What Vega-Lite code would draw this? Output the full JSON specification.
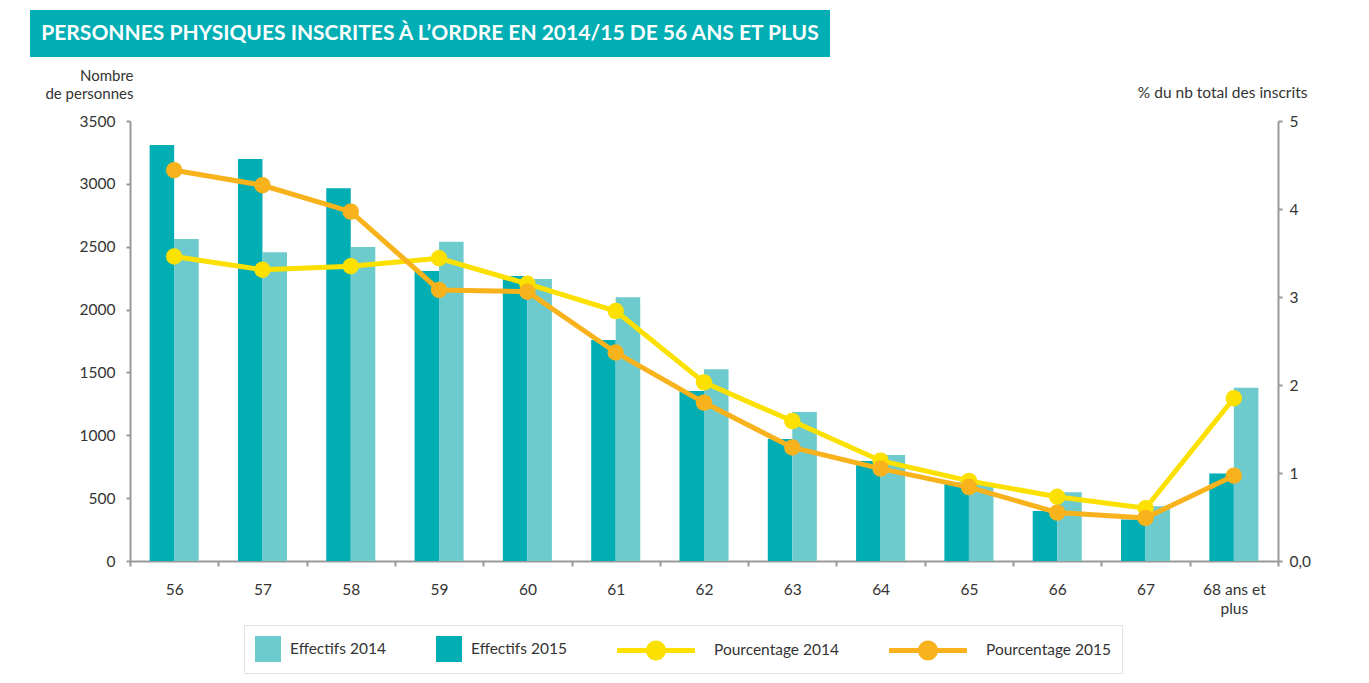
{
  "$schema": "https://vega.github.io/schema/vega-lite/v6.json",
  "background": "white",
  "padding": {"left": 30, "top": 10, "right": 0, "bottom": 0},
  "config": {
    "view": {"stroke": null},
    "font": "Lato",
    "axis": {"labelFont": "Lato", "titleFont": "Lato", "labelColor": "#333333", "titleColor": "#333333", "grid": false},
    "legend": {"labelFont": "Lato"}
  },
  "datasets": {
    "effectifs": [
      {"age": "56", "serie": "Effectifs 2015", "valeur": 3309},
      {"age": "57", "serie": "Effectifs 2015", "valeur": 3198},
      {"age": "58", "serie": "Effectifs 2015", "valeur": 2965},
      {"age": "59", "serie": "Effectifs 2015", "valeur": 2307},
      {"age": "60", "serie": "Effectifs 2015", "valeur": 2267},
      {"age": "61", "serie": "Effectifs 2015", "valeur": 1758},
      {"age": "62", "serie": "Effectifs 2015", "valeur": 1352},
      {"age": "63", "serie": "Effectifs 2015", "valeur": 970},
      {"age": "64", "serie": "Effectifs 2015", "valeur": 795},
      {"age": "65", "serie": "Effectifs 2015", "valeur": 625},
      {"age": "66", "serie": "Effectifs 2015", "valeur": 398},
      {"age": "67", "serie": "Effectifs 2015", "valeur": 331},
      {"age": "68 ans et plus", "serie": "Effectifs 2015", "valeur": 697},
      {"age": "56", "serie": "Effectifs 2014", "valeur": 2561},
      {"age": "57", "serie": "Effectifs 2014", "valeur": 2456},
      {"age": "58", "serie": "Effectifs 2014", "valeur": 2498},
      {"age": "59", "serie": "Effectifs 2014", "valeur": 2540},
      {"age": "60", "serie": "Effectifs 2014", "valeur": 2243},
      {"age": "61", "serie": "Effectifs 2014", "valeur": 2098},
      {"age": "62", "serie": "Effectifs 2014", "valeur": 1525},
      {"age": "63", "serie": "Effectifs 2014", "valeur": 1185},
      {"age": "64", "serie": "Effectifs 2014", "valeur": 843},
      {"age": "65", "serie": "Effectifs 2014", "valeur": 606},
      {"age": "66", "serie": "Effectifs 2014", "valeur": 546},
      {"age": "67", "serie": "Effectifs 2014", "valeur": 435},
      {"age": "68 ans et plus", "serie": "Effectifs 2014", "valeur": 1379}
    ],
    "pourcentages": [
      {"age": "56", "serie": "Pourcentage 2014", "pct": 3.46},
      {"age": "57", "serie": "Pourcentage 2014", "pct": 3.31},
      {"age": "58", "serie": "Pourcentage 2014", "pct": 3.35},
      {"age": "59", "serie": "Pourcentage 2014", "pct": 3.44},
      {"age": "60", "serie": "Pourcentage 2014", "pct": 3.15},
      {"age": "61", "serie": "Pourcentage 2014", "pct": 2.84},
      {"age": "62", "serie": "Pourcentage 2014", "pct": 2.03},
      {"age": "63", "serie": "Pourcentage 2014", "pct": 1.59},
      {"age": "64", "serie": "Pourcentage 2014", "pct": 1.14},
      {"age": "65", "serie": "Pourcentage 2014", "pct": 0.91},
      {"age": "66", "serie": "Pourcentage 2014", "pct": 0.73},
      {"age": "67", "serie": "Pourcentage 2014", "pct": 0.60},
      {"age": "68 ans et plus", "serie": "Pourcentage 2014", "pct": 1.85},
      {"age": "56", "serie": "Pourcentage 2015", "pct": 4.44},
      {"age": "57", "serie": "Pourcentage 2015", "pct": 4.27},
      {"age": "58", "serie": "Pourcentage 2015", "pct": 3.97},
      {"age": "59", "serie": "Pourcentage 2015", "pct": 3.08},
      {"age": "60", "serie": "Pourcentage 2015", "pct": 3.06},
      {"age": "61", "serie": "Pourcentage 2015", "pct": 2.37},
      {"age": "62", "serie": "Pourcentage 2015", "pct": 1.80},
      {"age": "63", "serie": "Pourcentage 2015", "pct": 1.29},
      {"age": "64", "serie": "Pourcentage 2015", "pct": 1.05},
      {"age": "65", "serie": "Pourcentage 2015", "pct": 0.84},
      {"age": "66", "serie": "Pourcentage 2015", "pct": 0.55},
      {"age": "67", "serie": "Pourcentage 2015", "pct": 0.49},
      {"age": "68 ans et plus", "serie": "Pourcentage 2015", "pct": 0.97}
    ]
  },
  "vconcat": [
    {
      "width": 800,
      "height": 47,
      "view": {"fill": "#00aeb4", "stroke": null},
      "data": {"values": [{"titre": "PERSONNES PHYSIQUES INSCRITES À L’ORDRE EN 2014/15 DE 56 ANS ET PLUS"}]},
      "mark": {"type": "text", "color": "white", "font": "Lato", "fontWeight": "bold", "fontSize": 21, "align": "center", "baseline": "middle"},
      "encoding": {"text": {"field": "titre"}}
    },
    {
      "hconcat": [
        {
          "width": 100,
          "height": 440,
          "data": {"values": [{"vide": ""}]},
          "mark": {"type": "text"},
          "encoding": {"text": {"field": "vide"}}
        },
        {
          "width": 1148,
          "height": 440,
          "layer": [
            {
              "data": {"name": "effectifs"},
              "mark": {"type": "bar"},
              "encoding": {
                "x": {
                  "field": "age", "type": "nominal",
                  "sort": ["56","57","58","59","60","61","62","63","64","65","66","67","68 ans et plus"],
                  "scale": {"paddingInner": 0, "paddingOuter": 0},
                  "axis": {
                    "title": null, "labelAngle": 0, "tickBand": "extent",
                    "domainColor": "#999999", "domainWidth": 2, "tickColor": "#999999", "tickWidth": 2, "tickSize": 5,
                    "labelFontSize": 15.5, "labelPadding": 16, "labelLineHeight": 19,
                    "labelExpr": "datum.value == '68 ans et plus' ? ['68 ans et', 'plus'] : datum.value"
                  }
                },
                "xOffset": {"field": "serie", "sort": ["Effectifs 2015", "Effectifs 2014"], "scale": {"paddingInner": 0, "paddingOuter": 0.8}},
                "y": {
                  "field": "valeur", "type": "quantitative",
                  "scale": {"domain": [0, 3500], "nice": false},
                  "axis": {
                    "values": [0, 500, 1000, 1500, 2000, 2500, 3000, 3500], "format": "d",
                    "title": ["Nombre", "de personnes"], "titleAngle": 0, "titleAlign": "right", "titleBaseline": "alphabetic",
                    "titleX": 3, "titleY": -41, "titleFontSize": 15, "titleFontWeight": "normal", "titleLineHeight": 18,
                    "domainColor": "#999999", "domainWidth": 2, "tickColor": "#999999", "tickWidth": 2, "tickSize": 4,
                    "labelFontSize": 15.5, "labelPadding": 11
                  }
                },
                "color": {
                  "field": "serie", "type": "nominal",
                  "scale": {
                    "domain": ["Effectifs 2014", "Effectifs 2015", "Pourcentage 2014", "Pourcentage 2015"],
                    "range": ["#6dcacd", "#00aeb4", "#fbe000", "#f8b21c"]
                  },
                  "legend": {
                    "title": null, "orient": "none", "direction": "horizontal", "columns": 4,
                    "legendX": 214, "legendY": 615,
                    "fillColor": "white", "strokeColor": "#e2e2e2", "padding": 11,
                    "symbolSize": 676, "symbolStrokeWidth": 0, "columnPadding": 50,
                    "labelFontSize": 15.5, "labelColor": "#333333", "labelOffset": 9, "labelLimit": 300,
                    "encode": {
                      "symbols": {
                        "update": {
                          "shape": {"signal": "indexof(datum.label, 'Pourcentage') >= 0 ? 'M-3,-0.2H3V0.2H-3Z M-0.77,0A0.77,0.77 0 1,1 0.77,0A0.77,0.77 0 1,1 -0.77,0Z' : 'square'"},
                          "fill": {"scale": "color", "field": "value"},
                          "fillOpacity": {"value": 1},
                          "strokeWidth": {"value": 0}
                        }
                      },
                      "labels": {
                        "update": {
                          "dx": {"signal": "indexof(datum.label, 'Pourcentage') >= 0 ? 36 : 0"}
                        }
                      }
                    }
                  }
                }
              }
            },
            {
              "data": {"name": "pourcentages"},
              "mark": {"type": "line", "strokeWidth": 5, "point": {"filled": true, "size": 270, "opacity": 1}},
              "encoding": {
                "x": {"field": "age", "type": "nominal", "sort": ["56","57","58","59","60","61","62","63","64","65","66","67","68 ans et plus"]},
                "y": {
                  "field": "pct", "type": "quantitative",
                  "scale": {"domain": [0, 5], "nice": false},
                  "axis": {
                    "orient": "right", "values": [0, 1, 2, 3, 4, 5],
                    "labelExpr": "datum.value == 0 ? '0,0' : datum.label",
                    "title": "% du nb total des inscrits", "titleAngle": 0, "titleAlign": "right", "titleBaseline": "alphabetic",
                    "titleX": 29, "titleY": -24, "titleFontSize": 15.5, "titleFontWeight": "normal",
                    "domainColor": "#999999", "domainWidth": 2, "tickColor": "#999999", "tickWidth": 2, "tickSize": 4,
                    "labelFontSize": 15.5, "labelPadding": 7
                  }
                },
                "color": {"field": "serie", "type": "nominal"}
              }
            }
          ],
          "resolve": {"scale": {"y": "independent"}}
        }
      ],
      "spacing": 0,
      "bounds": "flush"
    }
  ],
  "spacing": 64,
  "bounds": "flush"
}
